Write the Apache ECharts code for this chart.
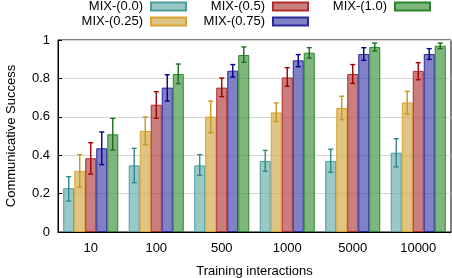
<!DOCTYPE html>
<html><head><meta charset="utf-8">
<script src="https://cdn.jsdelivr.net/npm/echarts@6/dist/echarts.min.js"></script>
<style>html,body{margin:0;padding:0;background:#fff}#c{width:452px;height:278px}</style>
</head><body><div id="c"></div>
<script>
const categories = ['10','100','500','1000','5000','10000'];
const seriesNames = ['MIX-(0.0)','MIX-(0.25)','MIX-(0.5)','MIX-(0.75)','MIX-(1.0)'];
const mix00  = [0.228, 0.347, 0.347, 0.370, 0.370, 0.413];
const mix025 = [0.319, 0.526, 0.601, 0.623, 0.646, 0.675];
const mix05  = [0.384, 0.663, 0.752, 0.805, 0.823, 0.839];
const mix075 = [0.436, 0.752, 0.840, 0.894, 0.927, 0.927];
const mix10  = [0.509, 0.823, 0.922, 0.934, 0.964, 0.970];
const low00  = [0.161, 0.257, 0.295, 0.316, 0.311, 0.339];
const high00 = [0.288, 0.436, 0.403, 0.425, 0.431, 0.486];
const low025 = [0.234, 0.455, 0.517, 0.576, 0.585, 0.615];
const high025= [0.403, 0.599, 0.682, 0.672, 0.707, 0.733];
const low05  = [0.302, 0.592, 0.705, 0.759, 0.774, 0.793];
const high05 = [0.465, 0.731, 0.802, 0.856, 0.872, 0.882];
const low075 = [0.351, 0.682, 0.807, 0.861, 0.894, 0.899];
const high075= [0.521, 0.819, 0.872, 0.924, 0.960, 0.955];
const low10  = [0.427, 0.773, 0.884, 0.906, 0.943, 0.955];
const high10 = [0.592, 0.875, 0.964, 0.960, 0.984, 0.984];
const yTicks = [0, 0.2, 0.4, 0.6, 0.8, 1];

const values = [mix00, mix025, mix05, mix075, mix10];
const lows = [low00, low025, low05, low075, low10];
const highs = [high00, high025, high05, high075, high10];
const fills = ['rgba(110,176,174,0.7)','rgba(214,176,90,0.75)','rgba(184,84,84,0.75)','rgba(80,80,176,0.72)','rgba(84,158,84,0.75)'];
const borders = ['#4d9e9b','#d9a332','#b22a2a','#2a2a9a','#2a862a'];
const errColors = ['#2e8a88','#c8961e','#a00000','#00008b','#1a6e1a'];
const BW = 0.168;
const font = 'Liberation Sans, Arial, sans-serif';

const series = [];
values.forEach((v, i) => {
  series.push({
    name: seriesNames[i], type: 'bar', data: v, barWidth: (BW*100)+'%', barGap: '0%',
    itemStyle: { color: fills[i], borderColor: borders[i], borderWidth: 1 },
    emphasis: { disabled: true }, z: 2
  });
});
values.forEach((v, i) => {
  series.push({
    type: 'custom', z: 5, silent: true,
    data: categories.map((c, k) => [k, lows[i][k], highs[i][k]]),
    renderItem: function (params, api) {
      const k = api.value(0);
      const bw = api.size([1, 0])[0] * BW;
      const pLow = api.coord([k, api.value(1)]);
      const pHigh = api.coord([k, api.value(2)]);
      const x = pLow[0] + (i - 2) * bw;
      const cap = 2.5;
      const st = { stroke: errColors[i], lineWidth: 1.4 };
      return { type: 'group', children: [
        { type: 'line', shape: { x1: x, y1: pLow[1], x2: x, y2: pHigh[1] }, style: st },
        { type: 'line', shape: { x1: x - cap, y1: pLow[1], x2: x + cap, y2: pLow[1] }, style: st },
        { type: 'line', shape: { x1: x - cap, y1: pHigh[1], x2: x + cap, y2: pHigh[1] }, style: st }
      ]};
    }
  });
});

function legendCol(names, right) {
  return {
    data: names, orient: 'vertical', align: 'right', right: right, top: 0,
    icon: 'rect', itemWidth: 35, itemHeight: 8, itemGap: 2, padding: 0,
    textStyle: { fontFamily: font, fontSize: 13, color: '#000', padding: [0, 3, 0, 0] },
    selectedMode: false
  };
}

const chart = echarts.init(document.getElementById('c'));
chart.setOption({
  animation: false,
  legend: [
    legendCol([seriesNames[0], seriesNames[1]], 265),
    legendCol([seriesNames[2], seriesNames[3]], 143),
    legendCol([seriesNames[4]], 21)
  ],
  grid: { left: 58, right: 1, top: 40, bottom: 46, show: true, borderColor: '#000', borderWidth: 1,
    containLabel: false, outerBoundsMode: 'none' },
  xAxis: {
    type: 'category', data: categories,
    name: 'Training interactions', nameLocation: 'middle', nameGap: 33,
    nameTextStyle: { fontFamily: font, fontSize: 13, color: '#000' },
    axisLine: { lineStyle: { color: '#000' } }, axisTick: { show: false },
    axisLabel: { fontFamily: font, fontSize: 13, color: '#000', margin: 10 }
  },
  yAxis: {
    type: 'value', min: 0, max: 1, interval: 0.2,
    name: 'Communicative Success', nameLocation: 'middle', nameGap: 40,
    nameTextStyle: { fontFamily: font, fontSize: 13, color: '#000' },
    axisLine: { show: true, lineStyle: { color: '#000' } },
    axisTick: { show: true, inside: true, length: 4, lineStyle: { color: '#000' } },
    axisLabel: { fontFamily: font, fontSize: 13, color: '#000', margin: 8,
      formatter: v => yTicks.includes(+v.toFixed(1)) ? String(+v.toFixed(1)) : '' },
    splitLine: { show: true, lineStyle: { color: '#d4d4d4', width: 1 } }
  },
  series: series
});
</script></body></html>
